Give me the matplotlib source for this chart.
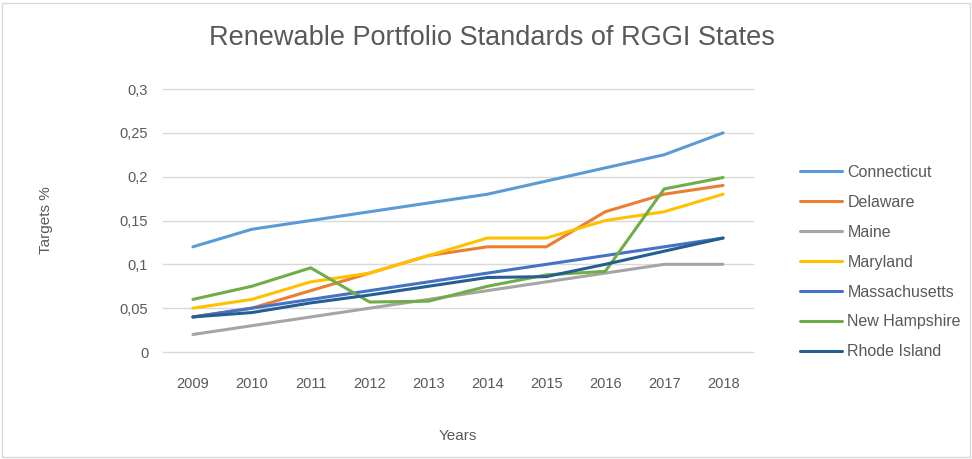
from matplotlib import pyplot as plt
from matplotlib.patches import Rectangle
from matplotlib.ticker import FuncFormatter
import numpy as np

years = ["2009", "2010", "2011", "2012", "2013", "2014", "2015", "2016", "2017", "2018"]

connecticut = [0.12, 0.14, 0.15, 0.16, 0.17, 0.18, 0.195, 0.21, 0.225, 0.25]
delaware = [0.04, 0.05, 0.07, 0.09, 0.11, 0.12, 0.12, 0.16, 0.18, 0.19]
maine = [0.02, 0.03, 0.04, 0.05, 0.06, 0.07, 0.08, 0.09, 0.10, 0.10]
maryland = [0.05, 0.06, 0.08, 0.09, 0.11, 0.13, 0.13, 0.15, 0.16, 0.18]
massachusetts = [0.04, 0.05, 0.06, 0.07, 0.08, 0.09, 0.10, 0.11, 0.12, 0.13]
new_hampshire = [0.06, 0.075, 0.096, 0.057, 0.058, 0.075, 0.088, 0.092, 0.186, 0.199]
rhode_island = [0.04, 0.045, 0.056, 0.065, 0.075, 0.085, 0.086, 0.10, 0.115, 0.13]

series = [
    ("Connecticut", connecticut, "#5B9BD5"),
    ("Delaware", delaware, "#ED7D31"),
    ("Maine", maine, "#A5A5A5"),
    ("Maryland", maryland, "#FFC000"),
    ("Massachusetts", massachusetts, "#4472C4"),
    ("New Hampshire", new_hampshire, "#70AD47"),
    ("Rhode Island", rhode_island, "#255E91"),
]

plt.rcParams['font.family'] = ['Liberation Sans', 'DejaVu Sans']
text_col = "#595959"

fig = plt.figure(figsize=(9.72, 4.59), dpi=100)
ax = fig.add_axes([0.1682, 0.2331, 0.606, 0.573])

x = np.arange(len(years))
for name, vals, col in series:
    ax.plot(x, vals, color=col, lw=2.2, label=name, solid_capstyle="round")

ax.set_xlim(-0.5, len(years) - 0.5)
ax.set_ylim(0, 0.3)
ax.set_yticks(np.arange(0, 0.31, 0.05))
ax.yaxis.set_major_formatter(FuncFormatter(
    lambda v, p: "0" if abs(v) < 1e-9 else ("%g" % round(v, 2)).replace(".", ",")))
ax.set_xticks(x)
ax.set_xticklabels(years)
ax.grid(axis="y", color="#D9D9D9", lw=1)
for gl in ax.get_ygridlines():
    gl.set_clip_on(False)
ax.set_axisbelow(True)
for s in ax.spines.values():
    s.set_visible(False)
ax.tick_params(length=0, labelsize=10.5, colors=text_col, pad=11)
ax.tick_params(axis="x", pad=18)

ax.set_xlabel("Years", fontsize=11, color=text_col, labelpad=27)
ax.set_ylabel("Targets %", fontsize=11, color=text_col, labelpad=48)
fig.text(0.506, 0.917, "Renewable Portfolio Standards of RGGI States",
         ha="center", va="center", fontsize=19.5, color=text_col)

leg = ax.legend(loc="upper left", bbox_to_anchor=(1.07, 0.735), frameon=False,
                fontsize=11.5, labelspacing=0.93, handlelength=2.6,
                handletextpad=0.35, borderaxespad=0)
for t in leg.get_texts():
    t.set_color(text_col)

fig.patches.append(Rectangle((0.002, 0.004), 0.996, 0.99, transform=fig.transFigure,
                             fill=False, edgecolor="#D9D9D9", lw=1))

plt.savefig("out.png")
